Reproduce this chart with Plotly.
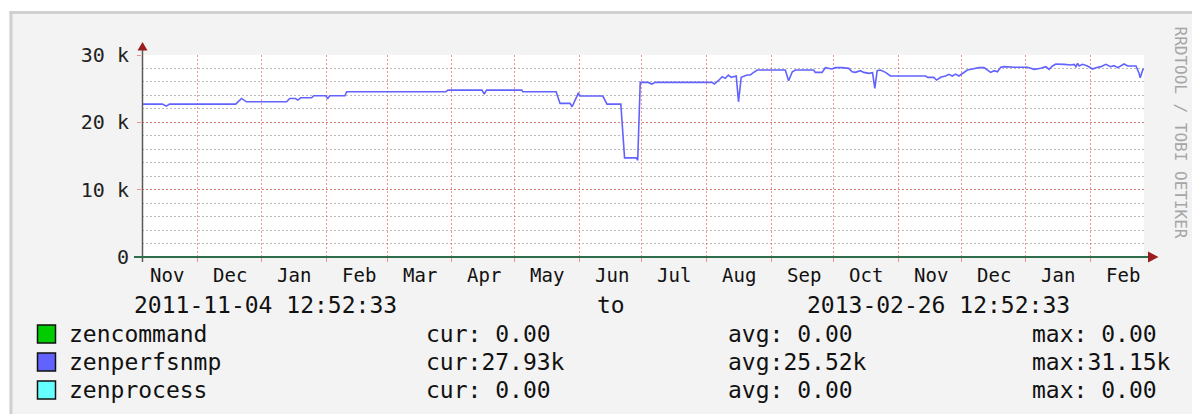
import plotly.graph_objects as go
import pandas as pd

# ---------------- data ----------------
start = "2011-11-04 12:52:33"
end = "2013-02-26 12:52:33"

perf_dates = [
    "2011-11-04 13:00", "2011-11-14 08:00", "2011-11-16 03:00", "2011-11-17 18:00",
    "2011-12-19 10:00", "2011-12-22 05:00", "2011-12-24 14:00", "2012-01-12 19:00",
    "2012-01-14 07:00", "2012-01-17 02:00", "2012-01-18 02:00", "2012-01-19 14:00",
    "2012-01-24 19:00", "2012-01-25 19:00", "2012-01-31 12:00", "2012-02-01 13:00",
    "2012-02-02 12:00", "2012-02-09 17:00", "2012-02-10 14:00", "2012-03-29 02:00",
    "2012-03-30 02:00", "2012-04-15 10:00", "2012-04-16 12:00", "2012-04-17 14:00",
    "2012-05-04 10:00", "2012-05-05 00:00", "2012-05-20 22:00", "2012-05-22 19:00",
    "2012-05-27 14:00", "2012-05-28 14:00", "2012-05-31 12:00", "2012-06-01 12:00",
    "2012-06-12 07:00", "2012-06-14 07:00", "2012-06-20 22:00", "2012-06-22 17:00",
    "2012-06-28 07:00", "2012-06-29 00:00", "2012-06-30 05:00", "2012-07-04 00:00",
    "2012-07-05 19:00", "2012-07-07 10:00", "2012-08-03 14:00", "2012-08-04 17:00",
    "2012-08-06 14:00", "2012-08-08 12:00", "2012-08-10 00:00", "2012-08-11 10:00",
    "2012-08-12 19:00", "2012-08-15 05:00", "2012-08-16 07:00", "2012-08-17 14:00",
    "2012-08-20 10:00", "2012-08-21 22:00", "2012-08-23 10:00", "2012-08-25 07:00",
    "2012-09-07 17:00", "2012-09-09 07:00", "2012-09-11 02:00", "2012-09-12 12:00",
    "2012-09-21 07:00", "2012-09-22 02:00", "2012-09-25 07:00", "2012-09-26 22:00",
    "2012-09-30 02:00", "2012-10-01 17:00", "2012-10-04 22:00", "2012-10-08 02:00",
    "2012-10-09 17:00", "2012-10-11 07:00", "2012-10-13 17:00", "2012-10-15 07:00",
    "2012-10-17 17:00", "2012-10-19 12:00", "2012-10-20 14:00", "2012-10-21 17:00",
    "2012-10-23 07:00", "2012-10-25 17:00", "2012-10-28 02:00", "2012-11-13 22:00",
    "2012-11-14 22:00", "2012-11-17 19:00", "2012-11-19 05:00", "2012-11-21 02:00",
    "2012-11-23 12:00", "2012-11-25 02:00", "2012-11-26 17:00", "2012-11-28 07:00",
    "2012-11-29 22:00", "2012-12-01 12:00", "2012-12-03 22:00", "2012-12-06 07:00",
    "2012-12-09 12:00", "2012-12-11 22:00", "2012-12-13 12:00", "2012-12-15 02:00",
    "2012-12-16 17:00", "2012-12-18 07:00", "2012-12-19 22:00", "2012-12-21 12:00",
    "2012-12-26 07:00", "2013-01-01 17:00", "2013-01-04 22:00", "2013-01-08 02:00",
    "2013-01-10 12:00", "2013-01-12 02:00", "2013-01-13 17:00", "2013-01-15 07:00",
    "2013-01-19 07:00", "2013-01-22 12:00", "2013-01-24 02:00", "2013-01-24 22:00",
    "2013-01-25 17:00", "2013-01-26 12:00", "2013-01-28 02:00", "2013-01-30 12:00",
    "2013-02-01 22:00", "2013-02-03 12:00", "2013-02-05 22:00", "2013-02-08 05:00",
    "2013-02-10 14:00", "2013-02-12 05:00", "2013-02-13 22:00", "2013-02-15 12:00",
    "2013-02-17 00:00", "2013-02-18 17:00", "2013-02-22 17:00", "2013-02-24 05:00",
    "2013-02-24 17:00", "2013-02-25 22:00", "2013-02-26 12:00",
]
perf_values = [
    22710, 22710, 22410, 22710,
    22710, 23550, 23050, 23050,
    23550, 23550, 23300, 23650,
    23650, 23950, 23950, 23550,
    23950, 23950, 24540, 24540,
    24790, 24790, 24200, 24790,
    24790, 24540, 24540, 22810,
    22810, 22310, 24300, 23900,
    23900, 22710, 22710, 14720,
    14720, 14370, 25930, 25930,
    25690, 25930, 25930, 25690,
    26180, 26780, 26530, 27030,
    26680, 26880, 23050, 26680,
    27030, 27030, 27370, 27770,
    27770, 26180, 27520, 27770,
    27770, 27420, 27420, 28120,
    27920, 28120, 28120, 28020,
    27520, 27420, 27670, 27420,
    27270, 27370, 25040, 27670,
    27770, 27420, 26880, 26880,
    26680, 26680, 26280, 26680,
    26880, 27130, 26880, 27170,
    26880, 27270, 27770, 27920,
    28120, 28120, 27770, 27420,
    27670, 27520, 28170, 28270,
    28170, 28170, 27870, 28020,
    28270, 27870, 28370, 28660,
    28610, 28510, 28610, 28270,
    28760, 28370, 28610, 28370,
    27920, 28120, 28270, 28610,
    28270, 28420, 28120, 28370,
    28660, 28370, 28370, 27270,
    26630, 27770, 27930,
]
zero_dates = [start, end]
zencommand_values = [0, 0]
zenprocess_values = [0, 0]

grid_months = pd.date_range("2011-12-01", "2013-02-01", freq="MS")
label_months = pd.date_range("2011-11-01", "2013-02-01", freq="MS")
month_labels = ["Nov", "Dec", "Jan", "Feb", "Mar", "Apr", "May", "Jun",
                "Jul", "Aug", "Sep", "Oct", "Nov", "Dec", "Jan", "Feb"]

y_ticks = [0, 10000, 20000, 30000]
y_ticktext = ["0", "10 k", "20 k", "30 k"]

series_names = ["zencommand", "zenperfsnmp", "zenprocess"]
series_colors = ["#00cc00", "#6262ff", "#66ffff"]
cur_text = ["cur: 0.00", "cur:27.93k", "cur: 0.00"]
avg_text = ["avg: 0.00", "avg:25.52k", "avg: 0.00"]
max_text = ["max: 0.00", "max:31.15k", "max: 0.00"]
range_text = ["2011-11-04 12:52:33", "to", "2013-02-26 12:52:33"]
watermark = "RRDTOOL / TOBI OETIKER"

# ---------------- layout helpers ----------------
W, H = 1192, 414
L, R, T, B = 142, 48, 55, 157
PW, PH = W - L - R, H - T - B
MONO = "DejaVu Sans Mono"


def xp(px):
    return (px - L) / PW


def yp(py):
    return (H - B - py) / PH


MAJOR = "rgba(236,90,90,0.65)"
MINOR = "rgba(130,130,130,0.55)"

fig = go.Figure()
fig.add_trace(go.Scatter(x=zero_dates, y=zencommand_values, mode="lines",
                         line=dict(color=series_colors[0], width=1.5), name=series_names[0]))
fig.add_trace(go.Scatter(x=perf_dates, y=perf_values, mode="lines",
                         line=dict(color=series_colors[1], width=1.6), name=series_names[1]))
fig.add_trace(go.Scatter(x=zero_dates, y=zenprocess_values, mode="lines",
                         line=dict(color=series_colors[2], width=1.5), name=series_names[2]))

fig.update_layout(
    width=W, height=H,
    margin=dict(l=L, r=R, t=T, b=B, pad=0),
    paper_bgcolor="#f3f3f3", plot_bgcolor="#ffffff",
    showlegend=False,
    font=dict(family=MONO, color="#111111"),
    xaxis=dict(
        type="date", range=[start, end], tickmode="array", tickvals=grid_months,
        showticklabels=False, showgrid=True, gridcolor=MAJOR, griddash="2px,2px",
        gridwidth=1, ticks="outside", ticklen=4, tickcolor=MAJOR, tickwidth=1,
        showline=False, zeroline=False,
    ),
    yaxis=dict(
        range=[0, 30000], tickmode="array", tickvals=y_ticks, ticktext=y_ticktext,
        showgrid=True, gridcolor=MAJOR, griddash="2px,2px", gridwidth=1,
        ticks="outside", ticklen=4, tickcolor=MAJOR, tickwidth=1,
        tickfont=dict(family=MONO, size=20, color="#222222"),
        ticklabelstandoff=4,
        showline=False, zeroline=False,
        minor=dict(tickmode="linear", tick0=0, dtick=2000, showgrid=True,
                   gridcolor=MINOR, griddash="2px,2px", gridwidth=1),
    ),
)

shapes = []
# page frame
shapes.append(dict(type="rect", xref="paper", yref="paper", x0=xp(0), x1=xp(W),
                   y0=yp(11), y1=yp(0), fillcolor="#ffffff", line=dict(width=0), layer="above"))
shapes.append(dict(type="rect", xref="paper", yref="paper", x0=xp(0), x1=xp(9.5),
                   y0=yp(H), y1=yp(0), fillcolor="#ffffff", line=dict(width=0), layer="above"))
shapes.append(dict(type="line", xref="paper", yref="paper", x0=xp(9.5), x1=xp(W),
                   y0=yp(12.5), y1=yp(12.5), line=dict(color="#d0d0d0", width=3)))
shapes.append(dict(type="line", xref="paper", yref="paper", x0=xp(11), x1=xp(11),
                   y0=yp(11), y1=yp(H), line=dict(color="#d0d0d0", width=3)))
# axes with arrows
shapes.append(dict(type="line", xref="paper", yref="paper", x0=xp(142.5), x1=xp(142.5),
                   y0=yp(262), y1=yp(50), line=dict(color="#5a5a5a", width=1.5)))
shapes.append(dict(type="line", xref="paper", yref="paper", x0=xp(134), x1=xp(1149),
                   y0=yp(257), y1=yp(257), line=dict(color="#2e6e4c", width=2)))
shapes.append(dict(type="path", xref="paper", yref="paper",
                   path=f"M {xp(137.5)},{yp(50.5)} L {xp(147.5)},{yp(50.5)} L {xp(142.5)},{yp(42)} Z",
                   fillcolor="#9a1c1c", line=dict(width=0)))
shapes.append(dict(type="path", xref="paper", yref="paper",
                   path=f"M {xp(1148)},{yp(251.5)} L {xp(1148)},{yp(262.5)} L {xp(1158.5)},{yp(257)} Z",
                   fillcolor="#9a1c1c", line=dict(width=0)))

annotations = []
# month labels
for m, lab in zip(label_months, month_labels):
    annotations.append(dict(x=m + pd.Timedelta(hours=372), xref="x", y=yp(275), yref="paper",
                            text=lab, showarrow=False, xanchor="center", yanchor="middle",
                            font=dict(family=MONO, size=19, color="#111111")))
# time range line
for px, txt in zip([132, 595, 805], range_text):
    annotations.append(dict(x=xp(px), xref="paper", y=yp(305), yref="paper", text=txt,
                            showarrow=False, xanchor="left", yanchor="middle",
                            font=dict(family=MONO, size=23, color="#111111")))
# legend rows
rows = [334, 362, 390]
for i, ry in enumerate(rows):
    shapes.append(dict(type="rect", xref="paper", yref="paper", x0=xp(37.5), x1=xp(55.5),
                       y0=yp(ry + 9), y1=yp(ry - 9), fillcolor=series_colors[i],
                       line=dict(color="#111111", width=1.5)))
    for px, txt in zip([66.5, 423.5, 726, 1030], [series_names[i], cur_text[i], avg_text[i], max_text[i]]):
        annotations.append(dict(x=xp(px), xref="paper", y=yp(ry), yref="paper", text=txt,
                                showarrow=False, xanchor="left", yanchor="middle",
                                font=dict(family=MONO, size=23, color="#111111")))
# watermark
annotations.append(dict(x=xp(1180), xref="paper", y=yp(132.5), yref="paper", text=watermark,
                        showarrow=False, textangle=90, xanchor="center", yanchor="middle",
                        borderpad=0, borderwidth=0,
                        font=dict(family=MONO, size=16, color="#a6a6a6")))

fig.update_layout(shapes=shapes, annotations=annotations)
fig.write_html("out.html", config={"displayModeBar": False},
               post_script="document.body.style.margin='0';")
